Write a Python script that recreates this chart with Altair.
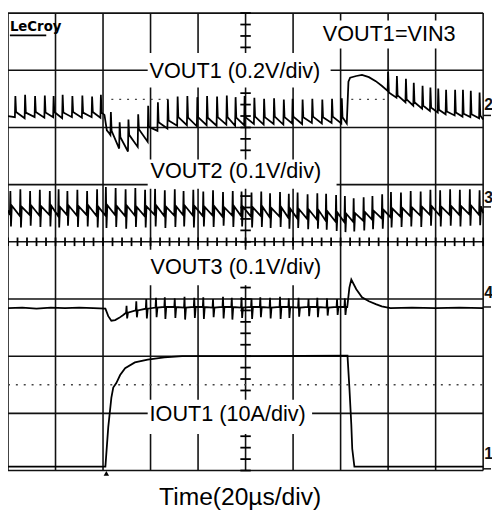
import altair as alt
import pandas as pd

# ---------------- graticule (time in µs, 20 µs/div; amplitude in screen divisions) -------------
GRID_T = [0, 20, 40, 60, 80, 100, 120, 140, 160, 180, 200]
GRID_V = [0, 1, 2, 3, 4, 5, 6, 7, 8]
CENTER_T = 100
CENTER_V = 4
MINOR_V = [round(0.2 * k, 2) for k in range(41)]
MINOR_T = [4 * k for k in range(51)]
TICK_HALF_T = 2.2    # half length of minor ticks on the centre vertical line (µs)
TICK_HALF_V = 0.075  # half length of minor ticks on the centre horizontal line (div)

# ---------------- VOUT1 (0.2V/div): per switching cycle: time, level before spike, spike top, level after spike
v1_t = [2.9, 7.0, 11.2, 15.3, 19.0, 22.8, 26.9, 31.1, 35.2, 38.9,
        43.1, 46.8, 50.5, 54.6, 58.8, 62.9, 67.1,
        71.2, 75.3, 79.5, 83.6, 87.8, 91.9, 95.6, 99.4, 103.5, 107.6, 111.8, 115.9, 119.6, 123.8, 127.9, 132.1, 136.2, 140.3,
        159.8, 163.5, 167.3, 170.6, 174.3, 177.6, 180.9, 184.2, 188.0, 191.3, 194.6, 198.3]
v1_pre = [6.18, 6.16, 6.18, 6.17, 6.18, 6.16, 6.18, 6.17, 6.18, 6.17,
          5.87, 5.63, 5.58, 5.66, 5.75, 5.94, 5.98,
          6.03, 6.04, 6.02, 6.04, 6.03, 6.05, 6.03, 6.04, 6.06, 6.05, 6.06, 6.05, 6.07, 6.06, 6.08, 6.07, 6.08, 6.07,
          6.64, 6.52, 6.44, 6.38, 6.33, 6.29, 6.26, 6.23, 6.21, 6.19, 6.18, 6.16]
v1_top = [6.55, 6.57, 6.55, 6.56, 6.55, 6.57, 6.55, 6.56, 6.54, 6.57,
          6.27, 6.09, 6.14, 6.23, 6.38, 6.44, 6.49,
          6.54, 6.55, 6.53, 6.55, 6.54, 6.56, 6.53, 6.55, 6.52, 6.50, 6.51, 6.49, 6.50, 6.49, 6.50, 6.49, 6.50, 6.51,
          6.97, 6.90, 6.85, 6.78, 6.73, 6.70, 6.68, 6.66, 6.66, 6.66, 6.64, 6.61]
v1_post = [6.27, 6.26, 6.27, 6.26, 6.27, 6.26, 6.27, 6.26, 6.27, 6.26,
           5.94, 5.83, 5.87, 5.97, 6.01, 6.09, 6.12,
           6.18, 6.17, 6.18, 6.17, 6.18, 6.18, 6.17, 6.18, 6.19, 6.18, 6.19, 6.18, 6.19, 6.18, 6.19, 6.18, 6.19, 6.18,
           6.61, 6.56, 6.49, 6.44, 6.38, 6.35, 6.31, 6.28, 6.26, 6.24, 6.23, 6.21]
v1_extra_t = [0.0, 40.6, 41.6, 42.6, 142.6, 143.3, 144.0, 146.6, 149.0, 151.9, 154.8, 157.3, 200.0]
v1_extra_v = [6.20, 6.22, 5.95, 5.90, 6.07, 6.80, 6.87, 6.90, 6.92, 6.88, 6.81, 6.73, 6.14]

# ---------------- VOUT2 (0.1V/div): per cycle: time, before, spike top, spike low, after
v2_t = [0.8, 5.0, 9.1, 13.2, 17.4, 21.1, 24.8, 29.0, 33.1, 37.3,
        41.0, 45.1, 49.3, 53.4, 57.5, 61.7, 65.8, 70.0, 73.7, 77.8,
        82.0, 86.1, 90.3, 94.4, 98.1, 102.3, 106.4, 110.1, 114.3, 118.0,
        121.7, 125.9, 130.0, 133.7, 137.9, 141.6, 145.3, 149.5, 153.2, 157.3,
        161.0, 165.2, 169.3, 173.5, 177.6, 181.7, 185.9, 190.0, 194.2, 198.3]
v2_top = [4.89, 4.92, 4.89, 4.91, 4.89, 4.92, 4.89, 4.91, 4.89, 4.92,
          4.96, 4.94, 4.92, 4.94, 4.91, 4.93, 4.90, 4.92, 4.89, 4.91,
          4.88, 4.90, 4.87, 4.89, 4.88, 4.86, 4.88, 4.85, 4.87, 4.84,
          4.86, 4.83, 4.85, 4.84, 4.82, 4.80, 4.76, 4.78, 4.80, 4.83,
          4.87, 4.86, 4.89, 4.88, 4.91, 4.90, 4.92, 4.91, 4.92, 4.90]
v2_low = [4.27, 4.25, 4.28, 4.26, 4.27, 4.25, 4.28, 4.26, 4.27, 4.25,
          4.24, 4.26, 4.23, 4.26, 4.25, 4.27, 4.24, 4.26, 4.27, 4.25,
          4.27, 4.26, 4.28, 4.26, 4.27, 4.25, 4.26, 4.24, 4.26, 4.23,
          4.24, 4.22, 4.23, 4.21, 4.19, 4.17, 4.18, 4.20, 4.22, 4.23,
          4.25, 4.26, 4.27, 4.26, 4.28, 4.27, 4.28, 4.27, 4.28, 4.29]
v2_post = [4.63, 4.61, 4.63, 4.62, 4.63, 4.61, 4.63, 4.62, 4.63, 4.61,
           4.64, 4.62, 4.63, 4.61, 4.62, 4.63, 4.61, 4.62, 4.63, 4.62,
           4.61, 4.62, 4.60, 4.62, 4.61, 4.60, 4.61, 4.59, 4.60, 4.58,
           4.57, 4.56, 4.55, 4.53, 4.51, 4.49, 4.50, 4.52, 4.54, 4.56,
           4.58, 4.59, 4.60, 4.61, 4.62, 4.61, 4.62, 4.62, 4.63, 4.62]
v2_pre = [4.47, 4.45, 4.47, 4.46, 4.47, 4.45, 4.47, 4.46, 4.47, 4.45,
          4.46, 4.47, 4.45, 4.46, 4.45, 4.47, 4.45, 4.46, 4.47, 4.46,
          4.45, 4.46, 4.44, 4.46, 4.45, 4.44, 4.45, 4.43, 4.44, 4.42,
          4.41, 4.40, 4.39, 4.37, 4.35, 4.34, 4.35, 4.37, 4.39, 4.41,
          4.43, 4.44, 4.45, 4.46, 4.47, 4.46, 4.47, 4.47, 4.48, 4.47]

# ---------------- VOUT3 (0.1V/div): glitches during load + baseline path
v3_t = [49.7, 53.8, 58.0, 62.1, 65.8, 70.0, 74.1, 78.2, 82.0, 86.1, 90.3, 94.0,
        98.1, 102.3, 106.0, 110.1, 114.3, 118.0, 122.1, 126.3, 130.0, 134.1, 138.3, 141.6]
v3_base = [2.76, 2.80, 2.83, 2.85, 2.86, 2.86, 2.85, 2.86, 2.86, 2.85, 2.86, 2.86,
           2.85, 2.86, 2.86, 2.85, 2.86, 2.86, 2.85, 2.86, 2.86, 2.85, 2.86, 2.86]
v3_top = [2.88, 2.96, 3.00, 3.02, 3.03, 3.01, 3.04, 3.02, 3.03, 3.00, 3.04, 3.02,
          3.03, 3.01, 3.03, 3.02, 3.04, 3.01, 3.02, 3.00, 3.02, 3.01, 3.00, 3.01]
v3_low = [2.66, 2.68, 2.66, 2.68, 2.65, 2.67, 2.64, 2.67, 2.65, 2.68, 2.66, 2.64,
          2.67, 2.65, 2.68, 2.66, 2.65, 2.67, 2.69, 2.70, 2.68, 2.71, 2.72, 2.72]
v3_extra_t = [0, 6, 12, 18, 24, 30, 36, 41.0, 42.2, 43.5, 45.1, 46.8, 48.5,
              142.8, 143.7, 144.5, 146.6, 149.0, 151.9, 154.8, 157.3, 161.0, 170, 180, 190, 200]
v3_extra_v = [2.84, 2.85, 2.83, 2.85, 2.84, 2.85, 2.84, 2.83, 2.70, 2.62, 2.63, 2.67, 2.72,
              2.86, 3.20, 3.34, 3.17, 3.03, 2.96, 2.91, 2.87, 2.84, 2.85, 2.84, 2.85, 2.84]

# ---------------- IOUT1 (10A/div)
i1_t = [0, 41.0, 42.2, 43.5, 44.3, 45.6, 47.2, 49.3, 53.4, 58.8, 65.8, 73.3, 100.2, 142.9,
        143.7, 144.5, 144.9, 145.8, 200]
i1_v = [0.07, 0.07, 0.76, 1.27, 1.45, 1.53, 1.67, 1.79, 1.89, 1.94, 1.98, 2.0, 2.0, 2.01,
        1.45, 0.81, 0.38, 0.07, 0.07]

# ---------------- annotations
label_text = ["VOUT1 (0.2V/div)", "VOUT2 (0.1V/div)", "VOUT3 (0.1V/div)", "IOUT1 (10A/div)", "VOUT1=VIN3"]
label_t = [59.6, 60.0, 60.0, 59.6, 132.5]
label_v = [6.87, 5.11, 3.44, 0.87, 7.52]
box_t = [58.8, 58.8, 58.8, 58.8, 131.7]
box_t2 = [135.8, 138.3, 138.3, 128.0, 187.1]
box_v = [7.30, 5.44, 3.86, 1.24, 7.87]
box_v2 = [6.70, 4.93, 3.24, 0.64, 7.38]
chan_text = ["2", "3", "4", "1"]
chan_v = [6.39, 4.77, 3.10, 0.29]
chan_gnd = [6.21, 4.61, 2.86, 0.03]
dot_v = [6.49, 6.49, 1.50]
dot_t = [43.5, 144.5, 0]
dot_t2 = [69.1, 159.0, 200]
trigger_t = [41.4]
trigger_v = [-0.05]


def build():
    rows = []

    def add(name, pts, w):
        pts = sorted(pts, key=lambda p: p[0])
        for i, (t, v) in enumerate(pts):
            rows.append({"trace": name, "i": i, "t": t, "v": v, "w": w})

    p1 = list(zip(v1_extra_t, v1_extra_v))
    for t, a, b, c in zip(v1_t, v1_pre, v1_top, v1_post):
        p1 += [(t, a), (t + 0.2, b), (t + 0.5, c)]
    add("VOUT1", p1, 1.8)

    p2 = []
    for t, a, b, c, d in zip(v2_t, v2_pre, v2_top, v2_low, v2_post):
        p2 += [(t, a), (t + 0.2, b), (t + 0.45, c), (t + 0.8, d)]
    p2 = [(0.0, 4.55)] + p2 + [(200.0, 4.50)]
    add("VOUT2", p2, 1.8)

    p3 = list(zip(v3_extra_t, v3_extra_v))
    for t, a, b, c in zip(v3_t, v3_base, v3_top, v3_low):
        p3 += [(t, a), (t + 0.2, b), (t + 0.45, c), (t + 0.8, a)]
    add("VOUT3", p3, 1.8)

    add("IOUT1", list(zip(i1_t, i1_v)), 1.8)

    # graticule minor ticks on the centre cross (each a two-point segment)
    for k, v in enumerate(MINOR_V):
        add(f"hx{k}", [(CENTER_T - TICK_HALF_T, v), (CENTER_T + TICK_HALF_T, v)], 1.8)
    for k, t in enumerate(MINOR_T):
        rows.append({"trace": f"vx{k}", "i": 0, "t": t, "v": CENTER_V - TICK_HALF_V, "w": 1.8})
        rows.append({"trace": f"vx{k}", "i": 1, "t": t, "v": CENTER_V + TICK_HALF_V, "w": 1.8})
    return pd.DataFrame(rows)


traces = build()

X = alt.X("t:Q", scale=alt.Scale(domain=[0, 200], nice=False, zero=False), axis=None)
Y = alt.Y("v:Q", scale=alt.Scale(domain=[0, 8], nice=False, zero=False), axis=None)
INK = "#111111"
FONT = "Liberation Sans, Arial, Helvetica, sans-serif"

vgrid = alt.Chart(pd.DataFrame({"t": GRID_T})).mark_rule(color=INK, strokeWidth=1.6).encode(x=X)
hgrid = alt.Chart(pd.DataFrame({"v": GRID_V})).mark_rule(color=INK, strokeWidth=1.6).encode(y=Y)

dots = alt.Chart(pd.DataFrame({"t": dot_t, "t2": dot_t2, "v": dot_v})).mark_rule(
    color="#444", strokeWidth=1.3, strokeDash=[2, 6]).encode(x=X, x2="t2:Q", y=Y)

lines = alt.Chart(traces).mark_line(color="black", strokeJoin="miter").encode(
    x=X, y=Y, detail="trace:N", order="i:Q",
    strokeWidth=alt.StrokeWidth("w:Q", scale=None, legend=None))

# white label boxes go over the graticule (the traces never enter them)
boxes = alt.Chart(pd.DataFrame({"t": box_t, "t2": box_t2, "v": box_v, "v2": box_v2})).mark_rect(
    color="white").encode(x=X, x2="t2:Q", y=Y, y2="v2:Q")

labels = alt.Chart(pd.DataFrame({"t": label_t, "v": label_v, "text": label_text})).mark_text(
    align="left", baseline="alphabetic", fontSize=22, font=FONT, color="black").encode(x=X, y=Y, text="text:N")

lecroy = alt.Chart(pd.DataFrame({"t": [0.8], "v": [7.68], "text": ["LeCroy"]})).mark_text(
    align="left", baseline="alphabetic", fontSize=15, fontWeight="bold",
    font="DejaVu Sans Condensed, Liberation Sans Narrow, DejaVu Sans, sans-serif", color="black").encode(
    x=X, y=Y, text="text:N")
lecroy_ul = alt.Chart(pd.DataFrame({"t": [0.8], "t2": [16.1], "v": [7.61]})).mark_rule(
    color="black", strokeWidth=2).encode(x=X, x2="t2:Q", y=Y)

chan = alt.Chart(pd.DataFrame({"v": chan_v, "text": chan_text})).mark_text(
    align="left", baseline="middle", fontSize=16, fontWeight="bold", font=FONT, color=INK).encode(
    x=alt.value(484), y=Y, text="text:N")
gnd = alt.Chart(pd.DataFrame({"v": chan_gnd})).mark_rule(color=INK, strokeWidth=1.5).encode(
    x=alt.value(483), x2=alt.value(491), y=Y)

trig = alt.Chart(pd.DataFrame({"t": trigger_t, "v": trigger_v})).mark_point(
    shape="triangle-up", filled=True, size=30, color="black", opacity=1).encode(x=X, y=Y)

xtitle = alt.Chart(pd.DataFrame({"text": ["Time(20µs/div)"]})).mark_text(
    align="center", baseline="alphabetic", fontSize=25, font=FONT, color="black").encode(
    x=alt.value(236), y=alt.value(500), text="text:N")

chart = alt.layer(vgrid, hgrid, dots, lines, boxes, labels, lecroy, lecroy_ul,
                  chan, gnd, trig, xtitle).properties(
    width=483, height=465,
    padding={"left": 0, "top": 1, "right": 9, "bottom": 39},
    autosize=alt.AutoSizeParams(type="none"),
    background="white",
).configure_view(stroke=None)

chart.save("out.html", embed_options={"renderer": "svg", "actions": False})
